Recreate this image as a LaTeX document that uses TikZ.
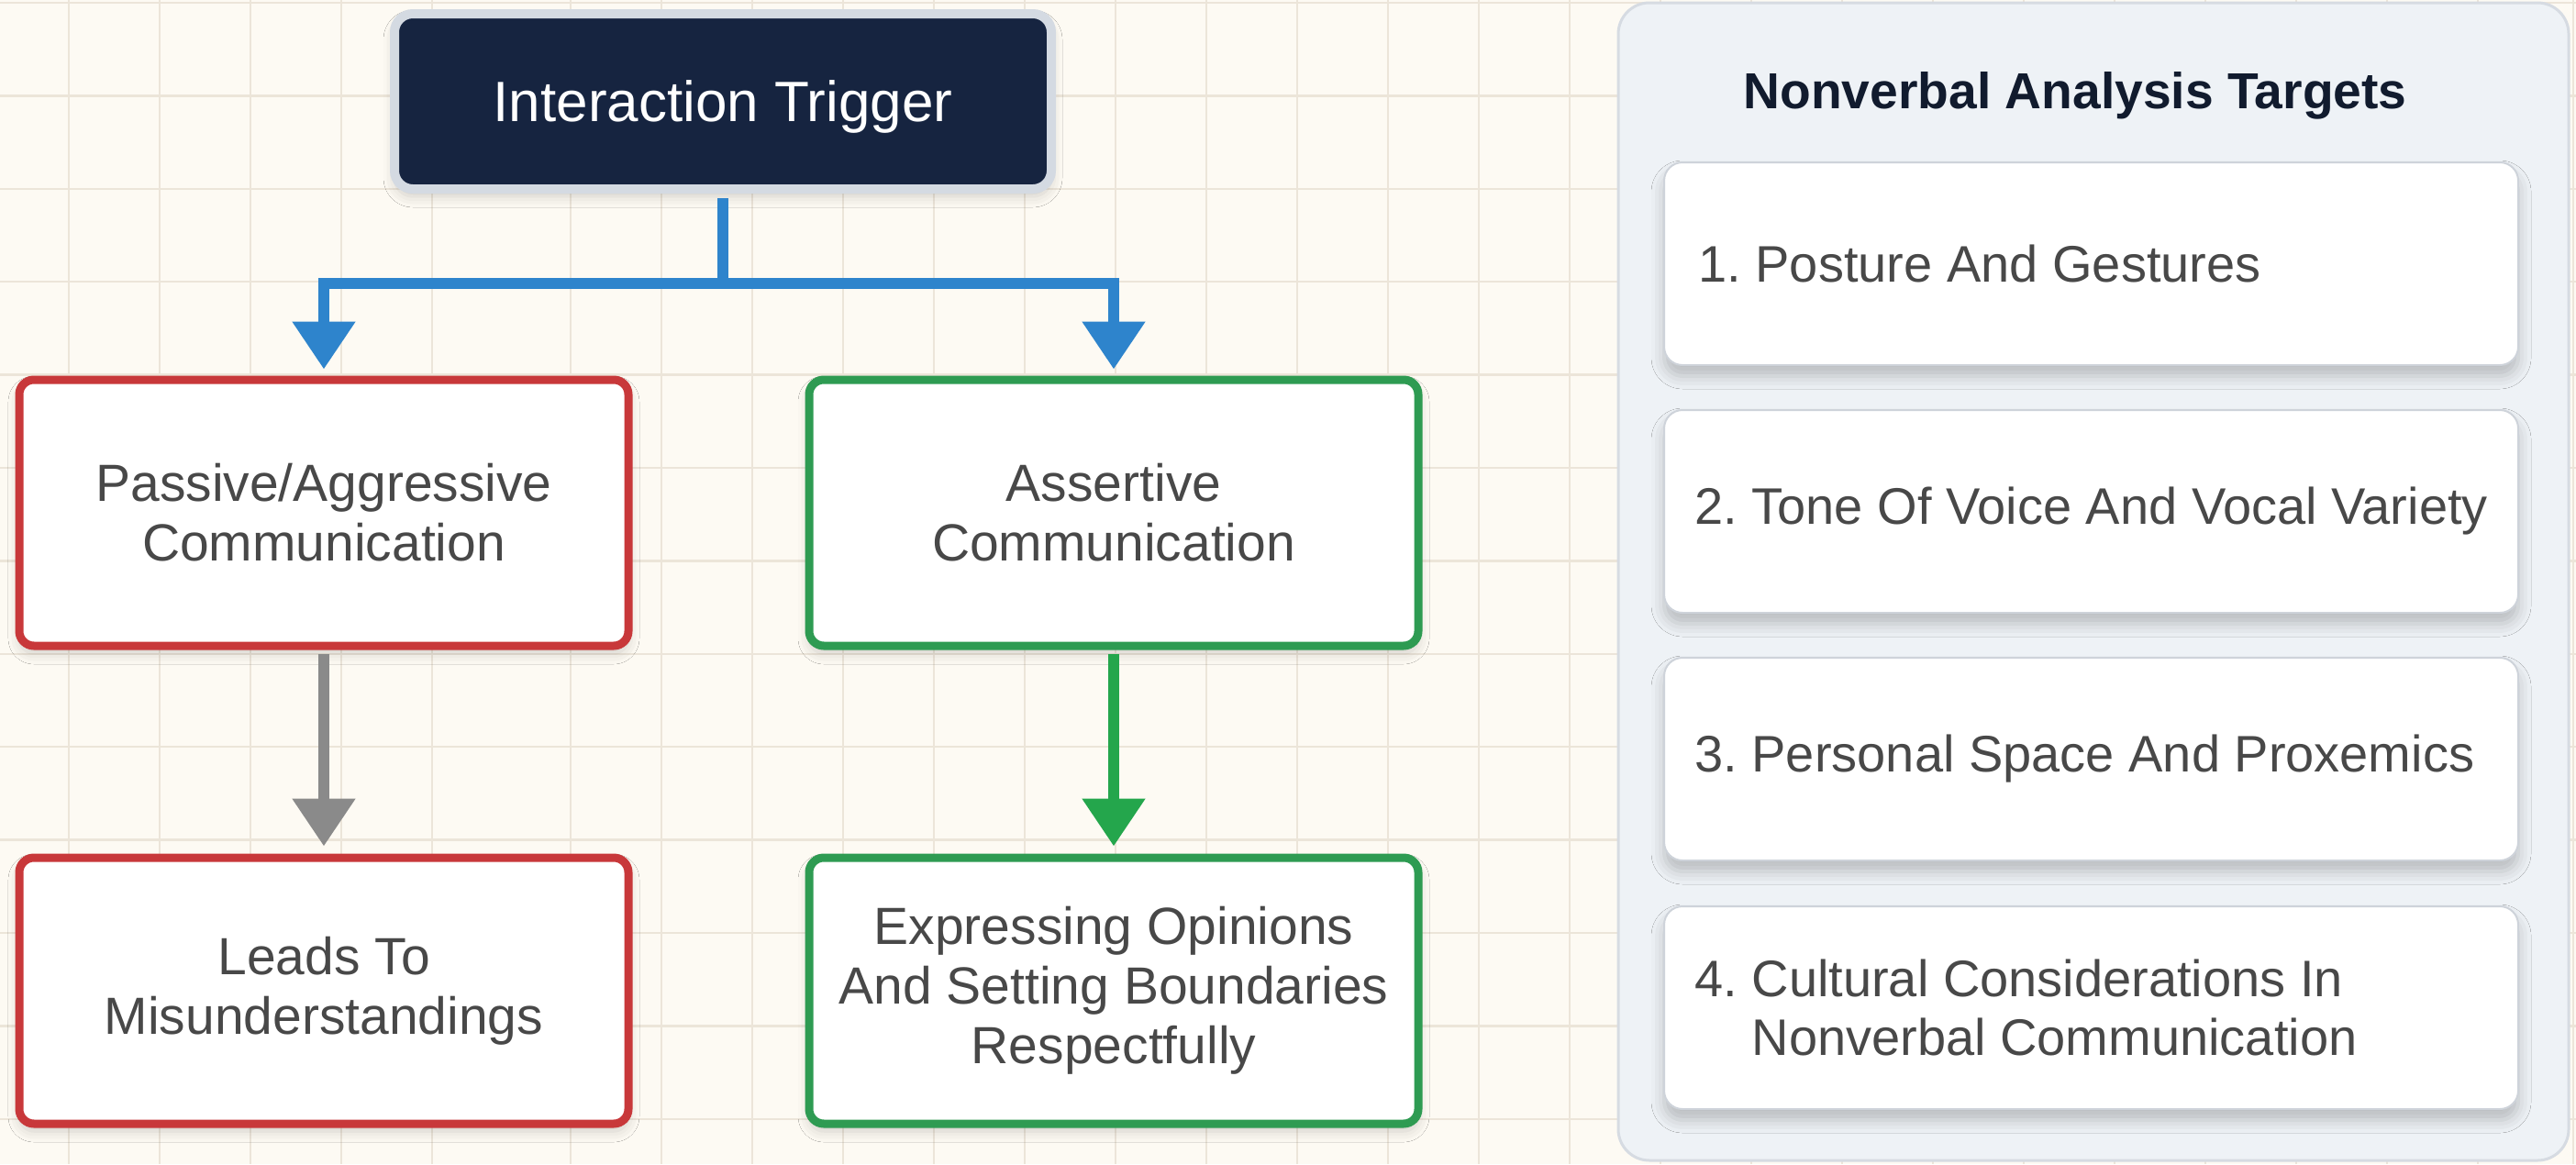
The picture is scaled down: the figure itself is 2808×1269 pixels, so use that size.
\documentclass[tikz,border=0pt]{standalone}
\usepackage{fontspec}
\setmainfont{Liberation Sans}
\usetikzlibrary{arrows.meta,shadows.blur}
\definecolor{bg}{RGB}{253,250,243}
\definecolor{gridc}{RGB}{236,229,217}
\definecolor{navy}{RGB}{22,36,64}
\definecolor{navyedge}{RGB}{212,218,226}
\definecolor{redc}{RGB}{200,56,58}
\definecolor{greenc}{RGB}{46,155,82}
\definecolor{greenarrow}{RGB}{36,166,76}
\definecolor{bluec}{RGB}{46,132,204}
\definecolor{greyarrow}{RGB}{138,138,138}
\definecolor{txt}{RGB}{72,72,72}
\definecolor{titlec}{RGB}{17,27,46}
\definecolor{panelfill}{RGB}{238,242,246}
\definecolor{paneledge}{RGB}{214,219,226}
\definecolor{itemedge}{RGB}{206,211,218}
\begin{document}
\frenchspacing
\begin{tikzpicture}[x=0.5pt,y=-0.5pt,
  gridline/.style={gridc, line width=1.2pt},
  softshadow/.style={blur shadow={shadow xshift=0pt, shadow yshift=-4pt, shadow blur radius=6pt, shadow opacity=18}},
  flowbox/.style={draw, line width=4.5pt, fill=white, rounded corners=8pt,
    minimum width=332pt, minimum height=145pt, inner sep=0pt, align=center,
    text=txt, font=\fontsize{28.5}{32.5}\selectfont, softshadow},
  redbox/.style={flowbox, draw=redc},
  greenbox/.style={flowbox, draw=greenc},
  trigbox/.style={draw=navyedge, fill=navy, line width=5pt, rounded corners=10pt,
    minimum width=358pt, minimum height=95.5pt, inner sep=0pt, text=white, text depth=0pt,
    font=\fontsize{31}{36}\selectfont, softshadow},
  panelbox/.style={draw=paneledge, fill=panelfill, line width=1.5pt, rounded corners=17pt,
    minimum width=518pt, minimum height=631pt, inner sep=0pt},
  itembox/.style={draw=itemedge, fill=white, line width=1pt, rounded corners=10pt,
    minimum width=465.5pt, minimum height=110.5pt, inner sep=0pt,
    blur shadow={shadow xshift=0pt, shadow yshift=-6pt, shadow blur radius=7pt, shadow opacity=22}},
  itemtext/.style={anchor=west, align=left, inner sep=0pt, text=txt,
    font=\fontsize{28}{32}\selectfont},
  titlestyle/.style={text=titlec, font=\bfseries\fontsize{27.6}{32}\selectfont, inner sep=0pt},
  con/.style={line width=6pt, line cap=butt},
  tipped/.style={-{Triangle[width=33pt,length=26pt]}},
]
\useasboundingbox (0,0) rectangle (2808,1269);
\fill[bg] (0,0) rectangle (2808,1269);
% grid
\foreach \gx in {75,174,273,372,471,622,721,820,919,1018,1117,1216,1315,1414,1513,1612,1711,1810,1909,2008,2107,2206,2305,2404,2503,2602,2701,2805}
  \draw[gridline] (\gx,0) -- (\gx,1269);
\foreach \k in {0,...,12}
  \draw[gridline] (0,{3+101.4*\k}) -- (2808,{3+101.4*\k});

% left flow
\node[trigbox] (trig) at (788,110.5) {Interaction Trigger};
\node[redbox] (pa) at (353,559) {Passive/Aggressive\\Communication};
\node[greenbox] (as) at (1214,559) {Assertive\\Communication};
\node[redbox] (lead) at (353,1080) {Leads To\\Misunderstandings};
\node[greenbox] (exp) at (1214,1080) {Expressing Opinions\\And Setting Boundaries\\Respectfully};

\coordinate (j) at (788,309);
\draw[con, bluec, shorten <=2.5pt] (trig.south) -- (j);
\draw[con, bluec, tipped, shorten >=3.5pt] (j) -| (pa.north);
\draw[con, bluec, tipped, shorten >=3.5pt] (j) -| (as.north);
\draw[con, greyarrow, tipped, shorten <=2.25pt, shorten >=4pt] (pa.south) -- (lead.north);
\draw[con, greenarrow, tipped, shorten <=2.25pt, shorten >=4pt] (as.south) -- (exp.north);

% right panel
\node[panelbox] (panel) at (2282,634) {};
\node[titlestyle, anchor=base] (title) at (2262,118) {Nonverbal Analysis Targets};
\node[itembox] (i1) at (2279.5,287.5) {};
\node[itembox] (i2) at (2279.5,557.5) {};
\node[itembox] (i3) at (2279.5,827.5) {};
\node[itembox] (i4) at (2279.5,1098.5) {};
\node[itemtext] (t1) at ([xshift=19pt]i1.west) {1. Posture And Gestures};
\node[itemtext] (t2) at ([xshift=17pt]i2.west) {2. Tone Of Voice And Vocal Variety};
\node[itemtext] (t3) at ([xshift=17pt]i3.west) {3. Personal Space And Proxemics};
\node[itemtext] (t4) at ([xshift=17pt]i4.west) {4. Cultural Considerations In\\\hphantom{4. }Nonverbal Communication};
\end{tikzpicture}
\end{document}
